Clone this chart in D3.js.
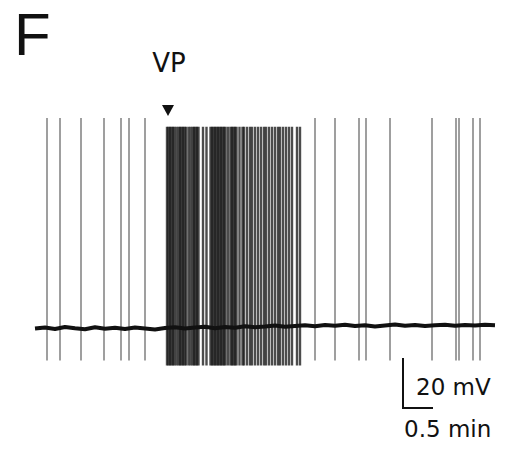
<!DOCTYPE html>
<html lang="en">
<head>
<meta charset="utf-8">
<style>
  body { margin: 0; background: #fff; }
  svg text { font-family: "DejaVu Sans", sans-serif; fill: #111; }
</style>
</head>
<body>
<div id="chart"></div>
<script src="https://cdnjs.cloudflare.com/ajax/libs/d3/7.8.5/d3.min.js"></script>
<script>
// spike times in seconds from start of trace
var preSpikes = [12, 25, 46, 69, 86, 94, 110];
var burstSpikes = [132, 133.5, 135, 136.5, 138, 139.5, 141.5, 143.5, 145, 146.5, 148, 149.5, 151,
  153.5, 155.5, 157.5, 159, 160.5, 162, 163.5, 168, 171.5, 175.5, 177, 178.5, 180, 181.5, 183,
  184.5, 186, 187.5, 189, 190.5, 193, 195.5, 197, 198.5, 200, 201.5, 204.5, 207.5, 209, 212,
  215, 217, 220, 223, 226, 229, 231, 234, 237, 240, 243, 245, 248, 251, 254, 257, 262, 265];
var postSpikes = [280, 300, 324, 331, 355, 397, 421, 424, 438, 445];

// membrane potential between spikes (mV), one value every 10 s
var baseline = [-60.2, -59.8, -60.4, -59.6, -60.1, -60.5, -59.7, -60.3, -59.9, -60.4, -59.8, -60.2, -60.6, -60.0,
  -59.7, -60.2, -59.8, -59.5, -60.1, -59.6, -59.9, -59.3, -59.7, -59.4, -59.0, -59.5, -59.2,
  -58.9, -59.3, -58.8, -59.1, -58.7, -59.2, -58.9, -59.4, -59.0, -58.6, -59.1, -58.8, -59.2,
  -58.9, -58.7, -59.1, -58.8, -59.0, -58.7, -58.9];

var vpTime = 133;          // s, drug application
var spikePeak = 24, spikeTrough = -73;     // mV
var burstPeak = 20.5, burstTrough = -75;   // mV

var width = 506, height = 455;

var svg = d3.select("#chart").append("svg")
    .attr("width", width)
    .attr("height", height);

// 1 s per px, 2.5 px per mV
var x = d3.scaleLinear().domain([0, 460]).range([35, 495]);
var y = d3.scaleLinear().domain([-75, 25]).range([365.5, 115.5]);

// spikes
function drawSpikes(times, peak, trough, op, w) {
  svg.append("g").selectAll("line")
    .data(times)
    .enter().append("line")
    .attr("x1", function(d) { return x(d); })
    .attr("x2", function(d) { return x(d); })
    .attr("y1", y(peak))
    .attr("y2", y(trough))
    .attr("stroke", "#000")
    .attr("stroke-opacity", op)
    .attr("stroke-width", w);
}
drawSpikes(preSpikes, spikePeak, spikeTrough, 0.42, 1.8);
drawSpikes(burstSpikes, burstPeak, burstTrough, 0.7, 2.4);
drawSpikes(postSpikes, spikePeak, spikeTrough, 0.42, 1.8);

// baseline trace
var line = d3.line()
    .x(function(d, i) { return x(i * 10); })
    .y(function(d) { return y(d); });

svg.append("path")
    .datum(baseline)
    .attr("d", line)
    .attr("fill", "none")
    .attr("stroke", "#111")
    .attr("stroke-width", 4)
    .attr("stroke-linejoin", "round");

// VP marker
var ax = x(vpTime);
svg.append("path")
    .attr("d", "M" + (ax - 6) + ",105L" + (ax + 6) + ",105L" + ax + ",116Z")
    .attr("fill", "#111");
svg.append("text")
    .attr("x", ax + 1)
    .attr("y", 72)
    .attr("text-anchor", "middle")
    .attr("font-size", 26)
    .text("VP");

// panel letter
svg.append("text")
    .attr("x", 14)
    .attr("y", 55)
    .attr("font-size", 60)
    .style("font-family", "'Liberation Sans', Arial, sans-serif")
    .text("F");

// scale bar: 20 mV, 0.5 min
var sbx = 403, sby = 408;
var sbh = y(-60) - y(-40);
var sbw = x(30) - x(0);
svg.append("path")
    .attr("d", "M" + sbx + "," + (sby - sbh) + "V" + sby + "H" + (sbx + sbw))
    .attr("fill", "none")
    .attr("stroke", "#111")
    .attr("stroke-width", 2);
svg.append("text")
    .attr("x", 416)
    .attr("y", 395)
    .attr("font-size", 23)
    .text("20 mV");
svg.append("text")
    .attr("x", 404)
    .attr("y", 437)
    .attr("font-size", 23)
    .text("0.5 min");
</script>
</body>
</html>
